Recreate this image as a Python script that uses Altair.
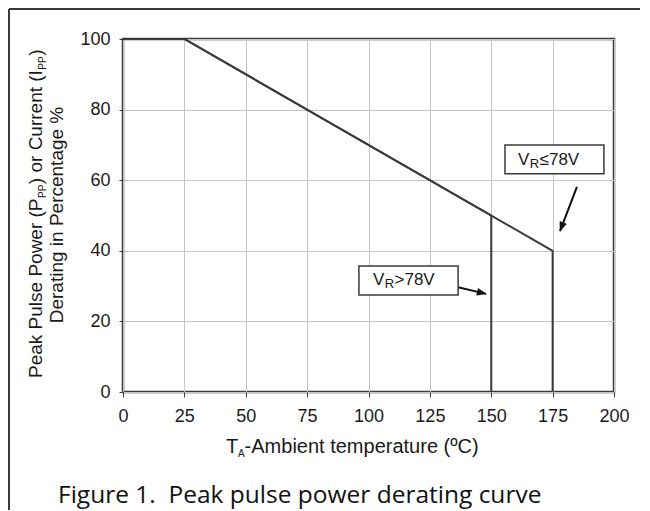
import math
import altair as alt
import pandas as pd

# ---------------- data ----------------
temp_low = [0, 25, 175, 175]      # V_R <= 78V curve
pct_low = [100, 100, 40, 0]
temp_high = [0, 25, 150, 150]     # V_R > 78V curve
pct_high = [100, 100, 50, 0]

x_ticks = [0, 25, 50, 75, 100, 125, 150, 175, 200]
y_ticks = [0, 20, 40, 60, 80, 100]

box_rest = ["\u226478V", ">78V"]
box_x1 = [155.6, 96.1]
box_x2 = [195.9, 136.5]
box_y1 = [61.8, 27.5]
box_y2 = [70.0, 35.7]
label_x = [160.9, 101.8]
label_y = [65.7, 31.7]
arrow_x1 = [184.9, 136.5]
arrow_y1 = [58.1, 29.7]
arrow_x2 = [178.0, 147.9]
arrow_y2 = [45.6, 27.8]

# ---------------- layout / style ----------------
W, H = 491, 353
PAD = {"left": 115, "top": 31, "right": 26, "bottom": 118}
INK = "#3a3a3a"
TXT = "#1a1a1a"
FONT = "Liberation Sans"

xs = alt.Scale(domain=[0, 200], nice=False, zero=False)
ys = alt.Scale(domain=[0, 100], nice=False, zero=False)

rows = []
for i, (t, p) in enumerate(zip(temp_low, pct_low)):
    rows.append({"s": "low", "i": i, "t": t, "p": p})
for i, (t, p) in enumerate(zip(temp_high, pct_high)):
    rows.append({"s": "high", "i": i, "t": t, "p": p})
curves = pd.DataFrame(rows)

base_x = alt.X("t:Q", scale=xs, title="",
               axis=alt.Axis(values=x_ticks, grid=True, domain=False, tickSize=5,
                             labelPadding=10, labelFlush=False, labelOverlap=False))
base_y = alt.Y("p:Q", scale=ys, title="",
               axis=alt.Axis(values=y_ticks, grid=True, domain=False, tickSize=4,
                             labelPadding=9, labelOverlap=False))

lines = alt.Chart(curves).mark_line(color=INK, strokeWidth=2).encode(
    x=base_x, y=base_y, detail="s:N", order="i:Q")

ann = pd.DataFrame({
    "bx1": box_x1, "bx2": box_x2, "by1": box_y1, "by2": box_y2,
    "lx": label_x, "ly": label_y, "rest": box_rest,
    "ax1": arrow_x1, "ay1": arrow_y1, "ax2": arrow_x2, "ay2": arrow_y2,
})
sx, sy = W / 200.0, H / 100.0
# screen direction of each arrow, as a clockwise angle from "up"
ann["ang"] = [
    (math.degrees(math.atan2((x2 - x1) * sx, (y2 - y1) * sy)) + 360) % 360
    for x1, y1, x2, y2 in zip(arrow_x1, arrow_y1, arrow_x2, arrow_y2)
]

boxes = alt.Chart(ann).mark_rect(fill="white", stroke=INK, strokeWidth=1.5).encode(
    x=alt.X("bx1:Q", scale=xs), x2="bx2:Q", y=alt.Y("by1:Q", scale=ys), y2="by2:Q")

lab_v = alt.Chart(ann).mark_text(text="V", font=FONT, fontSize=17, align="left",
                                 baseline="middle", color=TXT).encode(
    x=alt.X("lx:Q", scale=xs), y=alt.Y("ly:Q", scale=ys))
lab_r = alt.Chart(ann).mark_text(text="R", font=FONT, fontSize=13, align="left",
                                 baseline="middle", color=TXT, dx=11.8, dy=4).encode(
    x=alt.X("lx:Q", scale=xs), y=alt.Y("ly:Q", scale=ys))
lab_rest = alt.Chart(ann).mark_text(font=FONT, fontSize=17, align="left",
                                    baseline="middle", color=TXT, dx=21.6).encode(
    x=alt.X("lx:Q", scale=xs), y=alt.Y("ly:Q", scale=ys), text="rest:N")

arrows = alt.Chart(ann).mark_rule(color="#111111", strokeWidth=2).encode(
    x=alt.X("ax1:Q", scale=xs), y=alt.Y("ay1:Q", scale=ys), x2="ax2:Q", y2="ay2:Q")
heads = alt.Chart(ann).mark_point(shape="M0,0L0.62,1.6L-0.62,1.6Z", filled=True,
                                  fill="#111111", stroke="#111111", strokeWidth=0.5,
                                  size=125, opacity=1).encode(
    x=alt.X("ax2:Q", scale=xs), y=alt.Y("ay2:Q", scale=ys),
    angle=alt.Angle("ang:Q", scale=None))

dummy = pd.DataFrame({"k": [0]})


def txt(text, x, y, size, font=FONT, align="left", baseline="alphabetic",
        angle=0, dx=0, dy=0, color=TXT):
    return alt.Chart(dummy).mark_text(
        text=text, font=font, fontSize=size, align=align, baseline=baseline,
        angle=angle, dx=dx, dy=dy, color=color).encode(
        x=alt.value(x), y=alt.value(y))


deco = []
# x-axis title: T_A-Ambient temperature (ºC)
xt_x, xt_y = 103, 414
deco.append(txt("T", xt_x, xt_y, 20))
deco.append(txt("A", xt_x, xt_y, 10, dx=12.0, dy=4))
deco.append(txt("-Ambient temperature (\u00baC)", xt_x, xt_y, 20, dx=18.6))

# y-axis title line 1 (rotated, with subscripts)
f, s = 19, 10
yt1_x, yt1_y = -81, 339
w1 = 9.448 * f
w2 = 1.334 * s
w3 = 6.001 * f
off = 0.0
deco.append(txt("Peak Pulse Power (P", yt1_x, yt1_y, f, angle=270, dx=off))
off += w1 + 0.5
deco.append(txt("PP", yt1_x, yt1_y, s, angle=270, dx=off, dy=4))
off += w2 + 0.5
deco.append(txt(") or Current (I", yt1_x, yt1_y, f, angle=270, dx=off))
off += w3 + 0.5
deco.append(txt("PP", yt1_x, yt1_y, s, angle=270, dx=off, dy=4))
off += w2 + 0.5
deco.append(txt(")", yt1_x, yt1_y, f, angle=270, dx=off))
# y-axis title line 2
deco.append(txt("Derating in Percentage %", -60, 176, 19, align="center", angle=270))

# caption
deco.append(txt("Figure 1.\u00a0 Peak pulse power derating curve", -65, 464, 24.5,
                font="Open Sans", color="#111111"))

# outer frame (left and top lines)
frame_left = alt.Chart(dummy).mark_rule(color=INK, strokeWidth=2).encode(
    x=alt.value(-114), y=alt.value(-30), y2=alt.value(H + PAD["bottom"]))
frame_top = alt.Chart(dummy).mark_rule(color=INK, strokeWidth=2).encode(
    x=alt.value(-114), x2=alt.value(W + PAD["right"]), y=alt.value(-30))

chart = alt.layer(
    lines, arrows, heads, boxes, lab_v, lab_r, lab_rest, frame_left, frame_top, *deco
).properties(
    width=W, height=H,
    autosize=alt.AutoSizeParams(type="none"),
    padding=PAD,
).configure_view(
    stroke=INK, strokeWidth=2.5
).configure_axis(
    labelFont=FONT, labelFontSize=18, labelColor=TXT,
    tickColor=INK, tickWidth=1, gridColor="#c6c6c6", gridWidth=1,
)

chart.save("out.html", embed_options={"renderer": "svg", "actions": False})
